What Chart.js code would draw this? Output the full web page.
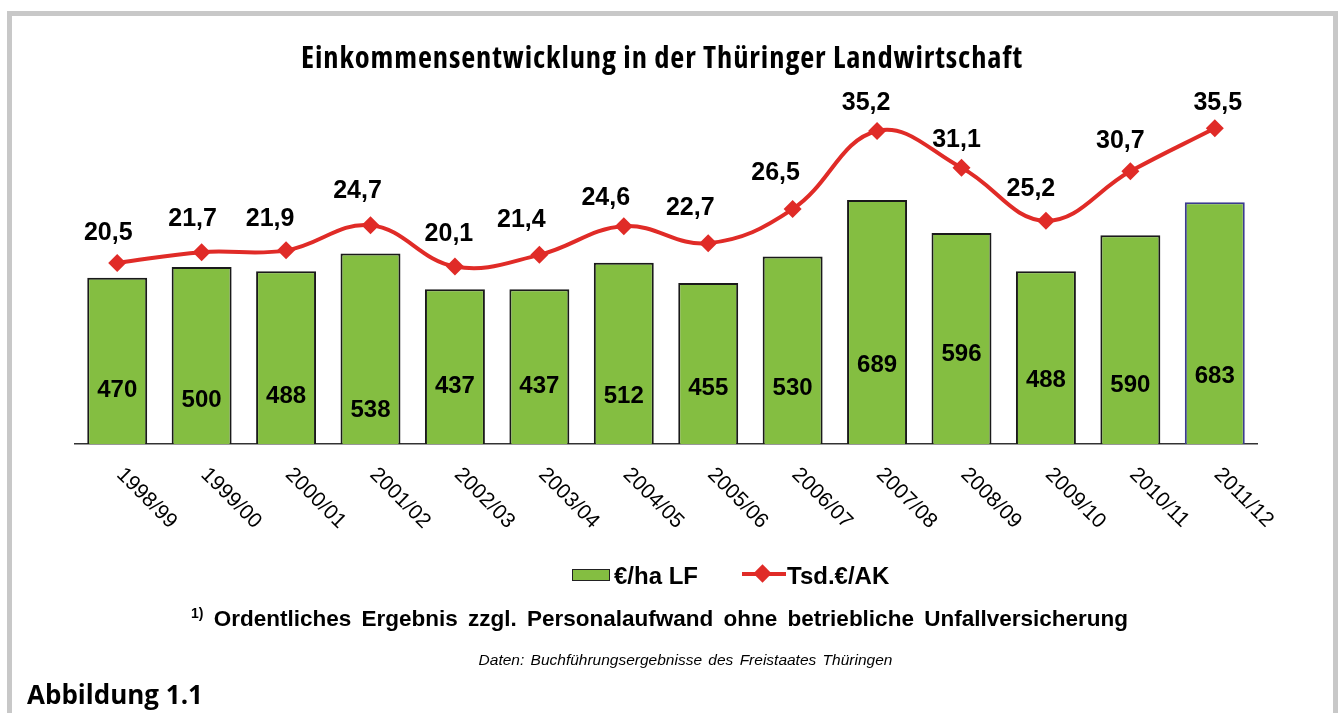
<!DOCTYPE html>
<html>
<head>
<meta charset="utf-8">
<script src="https://cdn.jsdelivr.net/npm/chart.js@4/dist/chart.umd.min.js"></script>
<style>
  html, body { margin:0; padding:0; background:#fff; width:1339px; height:713px; overflow:hidden; }
  #frame { position:absolute; left:7px; top:11px; width:1321px; height:720px; border:5px solid #c8c8c8; box-sizing:content-box; }
  #c { position:absolute; left:0; top:0; }
  .t { position:absolute; white-space:nowrap; color:#000; }
  #title { left:0; width:1324px; text-align:center; top:36px; font-family:"Open Sans",sans-serif; font-stretch:75%; font-weight:bold; font-size:30.5px; letter-spacing:0.9px; line-height:40px; }
  #abb { left:27px; top:677px; font-family:"Open Sans",sans-serif; font-weight:bold; font-size:26px; line-height:34px; }
  .leg { font-family:"Liberation Sans",Arial,sans-serif; font-weight:bold; font-size:24px; line-height:28px; top:562px; }
  #foot { left:0; width:1319px; text-align:center; top:605px; font-family:"Liberation Sans",Arial,sans-serif; font-weight:bold; font-size:22.5px; line-height:28px; word-spacing:4px; }
  #foot sup { font-size:14px; vertical-align:8px; line-height:0; }
  #src { left:0; width:1371px; text-align:center; top:650px; font-family:"Liberation Sans",Arial,sans-serif; font-style:italic; font-size:15.5px; line-height:20px; word-spacing:2px; }
</style>
</head>
<body>
<div id="frame"></div>
<canvas id="c" width="1339" height="713"></canvas>
<div class="t" id="title">Einkommensentwicklung in der Thüringer Landwirtschaft</div>
<div style="position:absolute;left:572px;top:569px;width:36px;height:10px;background:#84BE41;border:1px solid #222;"></div>
<div class="t leg" style="left:614px;">€/ha LF</div>
<div style="position:absolute;left:742px;top:572px;width:44px;height:4px;background:#E02B27;"></div>
<div style="position:absolute;left:756px;top:567px;width:13px;height:13px;background:#E02B27;transform:rotate(45deg);"></div>
<div class="t leg" style="left:787px;">Tsd.€/AK</div>
<div class="t" id="foot"><sup>1)</sup> Ordentliches Ergebnis zzgl. Personalaufwand ohne betriebliche Unfallversicherung</div>
<div class="t" id="src">Daten: Buchführungsergebnisse des Freistaates Thüringen</div>
<div class="t" id="abb">Abbildung 1.1</div>
<script>
// ---- data ----
const categories = ['1998/99','1999/00','2000/01','2001/02','2002/03','2003/04','2004/05','2005/06','2006/07','2007/08','2008/09','2009/10','2010/11','2011/12'];
const euroPerHa = [470, 500, 488, 538, 437, 437, 512, 455, 530, 689, 596, 488, 590, 683];
const tsdEuroPerAK = [20.5, 21.7, 21.9, 24.7, 20.1, 21.4, 24.6, 22.7, 26.5, 35.2, 31.1, 25.2, 30.7, 35.5];

// ---- label placement (styling only) ----
const barLabelLift = [54, 44, 48, 34, 58, 58, 48, 56, 56, 79, 90, 64, 59, 68];
const lineLabelDx = [-9, -9, -16, -13, -6, -18, -18, -18, -17, -11, -5, -15, -10, 3];
const lineLabelDy = [-30, -33, -31, -34, -32, -35, -28, -35, -36, -28, -28, -32, -30, -25];

const fmt = v => v.toFixed(1).replace('.', ',');

const labelPlugin = {
  id: 'customLabels',
  afterDraw(chart) {
    const ctx = chart.ctx;
    const xs = chart.scales.x;
    const base = chart.chartArea.bottom;
    ctx.save();
    // x category labels, rotated clockwise
    ctx.font = '21px "Liberation Sans", Arial, sans-serif';
    ctx.fillStyle = '#000';
    ctx.textAlign = 'left';
    ctx.textBaseline = 'top';
    categories.forEach((lab, i) => {
      const x = xs.getPixelForTick(i);
      ctx.save();
      ctx.translate(x + 10, base + 20);
      ctx.rotate(Math.PI / 4);
      ctx.fillText(lab, 0, 0);
      ctx.restore();
    });
    // bar labels
    const barMeta = chart.getDatasetMeta(1);
    ctx.font = 'bold 24px "Liberation Sans", Arial, sans-serif';
    ctx.textAlign = 'center';
    ctx.textBaseline = 'middle';
    barMeta.data.forEach((el, i) => {
      ctx.fillText(String(euroPerHa[i]), el.x, base - barLabelLift[i]);
    });
    // line labels
    const lineMeta = chart.getDatasetMeta(0);
    ctx.font = 'bold 25px "Liberation Sans", Arial, sans-serif';
    lineMeta.data.forEach((el, i) => {
      ctx.fillText(fmt(tsdEuroPerAK[i]), el.x + lineLabelDx[i], el.y + lineLabelDy[i]);
    });
    ctx.restore();
  }
};

new Chart(document.getElementById('c'), {
  data: {
    labels: categories,
    datasets: [
      {
        type: 'line',
        label: 'Tsd.€/AK',
        data: tsdEuroPerAK,
        yAxisID: 'y1',
        borderColor: '#E02B27',
        backgroundColor: '#E02B27',
        borderWidth: 4,
        tension: 0.4,
        pointStyle: 'rectRot',
        pointRadius: 9,
        pointHoverRadius: 9,
        pointBorderWidth: 0,
        order: 1,
        clip: false
      },
      {
        type: 'bar',
        label: '€/ha LF',
        data: euroPerHa,
        yAxisID: 'y',
        backgroundColor: '#84BE41',
        borderColor: ['#1a1a1a','#1a1a1a','#1a1a1a','#1a1a1a','#1a1a1a','#1a1a1a','#1a1a1a','#1a1a1a','#1a1a1a','#1a1a1a','#1a1a1a','#1a1a1a','#1a1a1a','#3b3b8f'],
        borderWidth: 2,
        barPercentage: 0.71,
        categoryPercentage: 1,
        order: 2
      }
    ]
  },
  options: {
    responsive: false,
    animation: false,
    layout: { padding: { left: 75, right: 82, top: 84, bottom: 269 } },
    plugins: { legend: { display: false }, title: { display: false }, tooltip: { enabled: false } },
    scales: {
      x: {
        grid: { display: false },
        border: { display: true, color: '#333', width: 1.5 },
        ticks: { display: false },
        afterFit(s) { s.height = 0; }
      },
      y: { display: false, min: 0, max: 1017 },
      y1: { display: false, min: 0.334, max: 40.43 }
    }
  },
  plugins: [labelPlugin]
});
</script>
</body>
</html>
